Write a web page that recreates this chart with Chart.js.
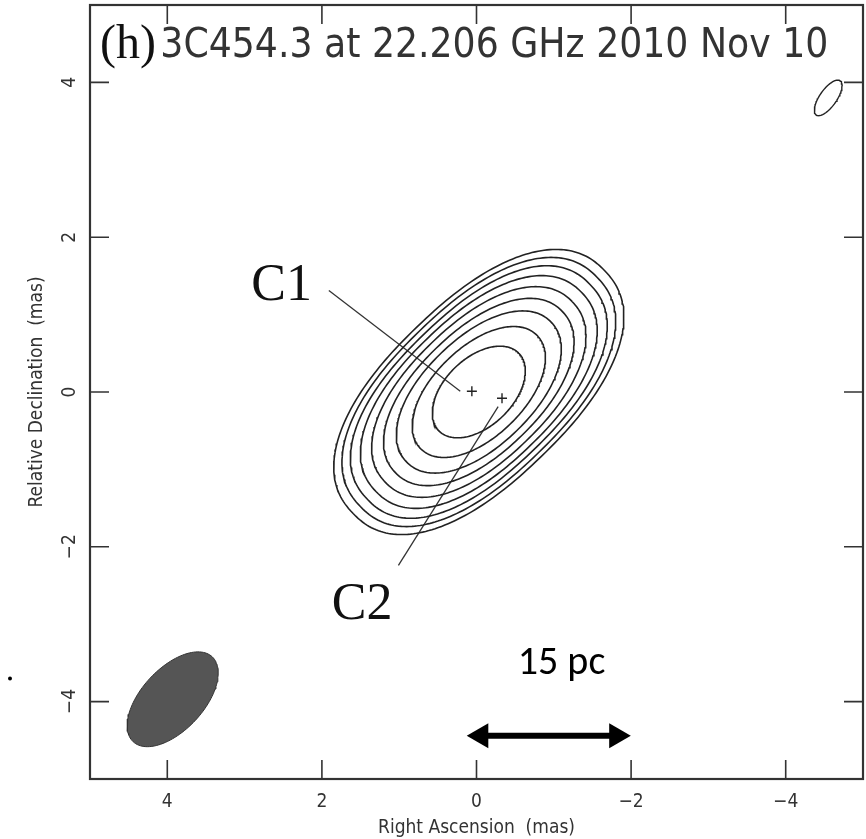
<!DOCTYPE html>
<html lang="en">
<head>
<meta charset="UTF-8">
<title>3C454.3 at 22.206 GHz</title>
<script src="https://cdn.jsdelivr.net/npm/chart.js"></script>
<style>
  html, body { margin: 0; padding: 0; background: #fff; }
</style>
</head>
<body>
<canvas id="map" width="866" height="839"></canvas>
<script>
// contour rings, innermost first (semi-axes in mas)
const contourMajor = [0.72, 1.05, 1.30, 1.50, 1.68, 1.85, 2.00, 2.13, 2.26];
const contourMinor = [0.44, 0.58, 0.70, 0.79, 0.88, 0.96, 1.03, 1.10, 1.16];
const contourShape = [2.0, 2.05, 2.1, 2.15, 2.2, 2.25, 2.3, 2.3, 2.3];
const contourCenter = [-0.03, 0.0];
const contourAngle = 44;

// model components
const compNames = ['C1', 'C2'];
const compX = [0.06, -0.33];
const compY = [0.01, -0.08];

// restoring beam (bottom left) and small beam (top right)
const beamCenter = [3.93, -3.97];
const beamAxes = [0.75, 0.40];
const beamAngle = 47;
const smallBeamCenter = [-4.55, 3.80];
const smallBeamAxes = [0.27, 0.11];
const smallBeamAngle = 55;

// 15 pc scale bar
const scaleBarX = [-0.06, -1.81];
const scaleBarY = [-4.44, -4.44];

const majorTicks = [-4, -2, 0, 2, 4];

const AXFONT = "'Liberation Sans Narrow', 'DejaVu Sans Condensed', 'DejaVu Sans', sans-serif";
const INK = '#222';

function ring(cx, cy, a, b, angle, p, n) {
    const th = angle * Math.PI / 180;
    const pts = [];
    for (let i = 0; i <= n; i++) {
        const t = 2 * Math.PI * i / n;
        const c = Math.cos(t), s = Math.sin(t);
        const lu = a * Math.sign(c) * Math.pow(Math.abs(c), 2 / p);
        const lv = b * Math.sign(s) * Math.pow(Math.abs(s), 2 / p);
        const u = lu * Math.cos(th) - lv * Math.sin(th);
        const v = lu * Math.sin(th) + lv * Math.cos(th);
        // RA grows to the left
        pts.push({ x: cx - u, y: cy + v });
    }
    return pts;
}

const datasets = [];

contourMajor.forEach((a, k) => {
    datasets.push({
        data: ring(contourCenter[0], contourCenter[1], a, contourMinor[k], contourAngle, contourShape[k], 240),
        borderColor: INK,
        borderWidth: 1.6,
        pointRadius: 0,
        fill: false
    });
});

datasets.push({
    data: ring(beamCenter[0], beamCenter[1], beamAxes[0], beamAxes[1], beamAngle, 2, 120),
    borderColor: '#333',
    borderWidth: 1,
    backgroundColor: '#555',
    pointRadius: 0,
    fill: 'shape'
});

datasets.push({
    data: ring(smallBeamCenter[0], smallBeamCenter[1], smallBeamAxes[0], smallBeamAxes[1], smallBeamAngle, 2, 80),
    borderColor: INK,
    borderWidth: 1.4,
    pointRadius: 0,
    fill: false
});

datasets.push({
    data: compX.map((x, i) => ({ x: x, y: compY[i] })),
    showLine: false,
    pointStyle: 'cross',
    pointRadius: 5,
    pointBorderWidth: 1.4,
    pointBorderColor: INK
});

// leader lines from labels to components
const leaderX = [[1.91, 0.21], [-0.28, 1.01]];
const leaderY = [[1.31, 0.01], [-0.19, -2.24]];
leaderX.forEach((xs, i) => {
    datasets.push({
        data: xs.map((x, j) => ({ x: x, y: leaderY[i][j] })),
        borderColor: '#333',
        borderWidth: 1.3,
        pointRadius: 0
    });
});

datasets.push({
    data: scaleBarX.map((x, i) => ({ x: x, y: scaleBarY[i] })),
    borderColor: '#000',
    borderWidth: 6,
    pointStyle: 'triangle',
    pointRadius: 14.4,
    pointRotation: [-90, 90],
    pointBackgroundColor: '#000',
    pointBorderWidth: 0
});

function fmt(v) {
    return v < 0 ? '\u2212' + Math.abs(v) : String(v);
}

const frameTicks = {
    id: 'frameTicks',
    afterDatasetsDraw(chart) {
        const { ctx, chartArea: a, scales: { x, y } } = chart;
        ctx.save();
        ctx.strokeStyle = '#333';
        ctx.lineWidth = 1.6;
        ctx.beginPath();
        x.ticks.forEach(t => {
            if (Math.abs(t.value) >= 5) return;
            const px = x.getPixelForValue(t.value);
            const len = t.value % 2 === 0 ? 19 : 10;
            ctx.moveTo(px, a.top); ctx.lineTo(px, a.top + len);
            ctx.moveTo(px, a.bottom); ctx.lineTo(px, a.bottom - len);
        });
        y.ticks.forEach(t => {
            if (Math.abs(t.value) >= 5) return;
            const py = y.getPixelForValue(t.value);
            const len = t.value % 2 === 0 ? 19 : 10;
            ctx.moveTo(a.left, py); ctx.lineTo(a.left + len, py);
            ctx.moveTo(a.right, py); ctx.lineTo(a.right - len, py);
        });
        ctx.stroke();
        ctx.lineWidth = 2.2;
        ctx.strokeRect(a.left, a.top, a.right - a.left, a.bottom - a.top);
        ctx.restore();
    }
};

const notes = {
    id: 'notes',
    afterDraw(chart) {
        const { ctx, scales: { x, y } } = chart;
        ctx.save();
        ctx.fillStyle = '#111';
        ctx.textBaseline = 'alphabetic';
        ctx.textAlign = 'left';

        ctx.font = "48px 'Liberation Serif', serif";
        ctx.fillText('(h)', x.getPixelForValue(4.87), y.getPixelForValue(4.31));

        const title = '3C454.3 at 22.206 GHz 2010 Nov 10';
        ctx.font = '30px ' + AXFONT;
        const w = ctx.measureText(title).width;
        const x0 = x.getPixelForValue(4.09), x1 = x.getPixelForValue(-4.56);
        const size = 30 * (x1 - x0) / w;
        ctx.fillStyle = '#333';
        ctx.font = size.toFixed(1) + 'px ' + AXFONT;
        ctx.fillText(title, x0, y.getPixelForValue(4.33));

        ctx.fillStyle = '#111';
        ctx.textAlign = 'center';
        ctx.textBaseline = 'middle';
        ctx.font = "52px 'Liberation Serif', serif";
        ctx.fillText(compNames[0], x.getPixelForValue(2.52), y.getPixelForValue(1.37));
        ctx.fillText(compNames[1], x.getPixelForValue(1.48), y.getPixelForValue(-2.76));

        ctx.fillStyle = '#000';
        ctx.font = "40px Carlito, Lato, sans-serif";
        ctx.fillText('15 pc', x.getPixelForValue(-1.10), y.getPixelForValue(-3.51));

        ctx.beginPath();
        ctx.arc(10, y.getPixelForValue(-3.70), 2, 0, Math.PI * 2);
        ctx.fill();
        ctx.restore();
    }
};

new Chart(document.getElementById('map'), {
    type: 'line',
    data: { datasets: datasets },
    options: {
        responsive: false,
        animation: false,
        devicePixelRatio: 1,
        layout: { autoPadding: false, padding: { top: 5, right: 3, left: 0, bottom: 0 } },
        plugins: { legend: { display: false }, tooltip: { enabled: false } },
        elements: { line: { tension: 0 } },
        scales: {
            x: {
                type: 'linear',
                min: -5,
                max: 5,
                reverse: true,
                afterFit(s) {
                    s.height = 60;
                    s.paddingLeft = 0;
                    s.paddingRight = 0;
                },
                grid: { display: false, drawTicks: false },
                border: { display: false },
                ticks: {
                    stepSize: 1,
                    autoSkip: false,
                    maxRotation: 0,
                    padding: 12,
                    color: '#333',
                    font: { family: AXFONT, size: 19 },
                    callback: v => majorTicks.includes(v) ? fmt(v) : null
                },
                title: {
                    display: true,
                    text: 'Right Ascension  (mas)',
                    color: '#333',
                    font: { family: AXFONT, size: 19 },
                    padding: { top: 0, bottom: 0 }
                }
            },
            y: {
                type: 'linear',
                min: -5,
                max: 5,
                afterFit(s) {
                    s.width = 90;
                    s.paddingTop = 0;
                    s.paddingBottom = 0;
                },
                grid: { display: false, drawTicks: false },
                border: { display: false },
                ticks: {
                    stepSize: 1,
                    autoSkip: false,
                    minRotation: 90,
                    maxRotation: 90,
                    crossAlign: 'center',
                    padding: 7,
                    color: '#333',
                    font: { family: AXFONT, size: 19 },
                    callback: v => majorTicks.includes(v) ? fmt(v) : null
                },
                title: {
                    display: true,
                    text: 'Relative Declination  (mas)',
                    color: '#333',
                    font: { family: AXFONT, size: 19 },
                    padding: { top: 26, bottom: 0 }
                }
            }
        }
    },
    plugins: [frameTicks, notes]
});
</script>
</body>
</html>
